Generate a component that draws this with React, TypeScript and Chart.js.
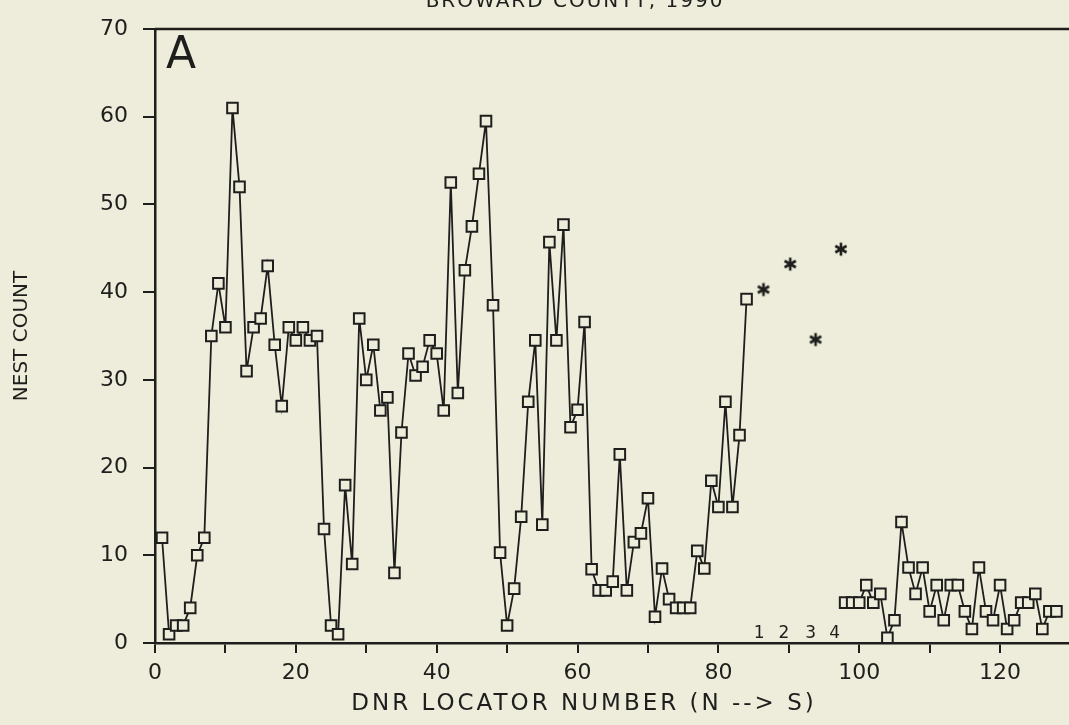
import React, { useEffect, useRef } from 'react';
import { Chart, registerables } from 'chart.js';

Chart.register(...registerables);

// ---- data ----
const NORTH_START = 1; // DNR locator of first value in northCounts
const northCounts = [
  12, 1, 2, 2, 4, 10, 12, 35, 41, 36,
  61, 52, 31, 36, 37, 43, 34, 27, 36, 34.5,
  36, 34.5, 35, 13, 2, 1, 18, 9, 37, 30,
  34, 26.5, 28, 8, 24, 33, 30.5, 31.5, 34.5, 33,
  26.5, 52.5, 28.5, 42.5, 47.5, 53.5, 59.5, 38.5, 10.3, 2,
  6.2, 14.4, 27.5, 34.5, 13.5, 45.7, 34.5, 47.7, 24.6, 26.6,
  36.6, 8.4, 6, 6, 7, 21.5, 6, 11.5, 12.5, 16.5,
  3, 8.5, 5, 4, 4, 4, 10.5, 8.5, 18.5, 15.5,
  27.5, 15.5, 23.7, 39.2,
];
const SOUTH_START = 98;
const southCounts = [
  4.6, 4.6, 4.6, 6.6, 4.6, 5.6, 0.6, 2.6, 13.8, 8.6,
  5.6, 8.6, 3.6, 6.6, 2.6, 6.6, 6.6, 3.6, 1.6, 8.6,
  3.6, 2.6, 6.6, 1.6, 2.6, 4.6, 4.6, 5.6, 1.6, 3.6,
  3.6,
];
const starLocators = [86.4, 90.2, 93.8, 97.4];
const starCounts = [40.3, 43.2, 34.6, 44.9];
const noteLabels = ['1', '2', '3', '4'];
const noteLocators = [85.8, 89.3, 93.1, 96.5];

const TITLE = 'BROWARD COUNTY, 1990';
const X_TITLE = 'DNR LOCATOR NUMBER (N --> S)';
const Y_TITLE = 'NEST COUNT';
const PANEL = 'A';

const INK = '#1e1e1c';
const PAPER = '#eeeddb';
const FONT = '"DejaVu Sans", sans-serif';

function makeAsterisk(): HTMLCanvasElement {
  const size = 16;
  const c = document.createElement('canvas');
  c.width = size;
  c.height = size;
  const g = c.getContext('2d')!;
  g.strokeStyle = INK;
  g.lineWidth = 2.6;
  g.lineCap = 'butt';
  const r = 6.5;
  const cx = size / 2;
  const cy = size / 2;
  [90, 30, 150].forEach((deg) => {
    const a = (deg * Math.PI) / 180;
    g.beginPath();
    g.moveTo(cx - r * Math.cos(a), cy - r * Math.sin(a));
    g.lineTo(cx + r * Math.cos(a), cy + r * Math.sin(a));
    g.stroke();
  });
  return c;
}

const textPlugin = {
  id: 'figureText',
  afterDraw(chart: any) {
    const { ctx, chartArea, scales } = chart;
    ctx.save();
    ctx.strokeStyle = INK;
    ctx.lineWidth = 2.5;
    ctx.beginPath();
    ctx.moveTo(chartArea.left, chartArea.top);
    ctx.lineTo(chartArea.right, chartArea.top);
    ctx.stroke();

    ctx.fillStyle = INK;
    ctx.textBaseline = 'alphabetic';
    ctx.textAlign = 'center';
    ctx.font = `20px ${FONT}`;
    (ctx as any).letterSpacing = '2px';
    ctx.fillText(TITLE, 575, 7);

    (ctx as any).letterSpacing = '0px';
    ctx.textAlign = 'left';
    ctx.font = `44px ${FONT}`;
    ctx.fillText(PANEL, chartArea.left + 11, chartArea.top + 39);

    ctx.textAlign = 'center';
    ctx.font = `23px ${FONT}`;
    (ctx as any).letterSpacing = '3px';
    ctx.fillText(X_TITLE, 584, 710);
    (ctx as any).letterSpacing = '0px';

    ctx.font = `17px ${FONT}`;
    const y0 = scales.y.getPixelForValue(0) - 5;
    noteLabels.forEach((lab, i) => {
      ctx.fillText(lab, scales.x.getPixelForValue(noteLocators[i]), y0);
    });
    ctx.restore();
  },
};

export default function App() {
  const ref = useRef<HTMLCanvasElement | null>(null);

  useEffect(() => {
    if (!ref.current) return;
    const north = northCounts.map((v, i) => ({ x: NORTH_START + i, y: v }));
    const south = southCounts.map((v, i) => ({ x: SOUTH_START + i, y: v }));
    const stars = starCounts.map((v, i) => ({ x: starLocators[i], y: v }));

    const lineStyle = {
      borderColor: INK,
      borderWidth: 1.8,
      pointStyle: 'rect' as const,
      pointRadius: 7.5,
      pointBorderWidth: 2,
      pointBorderColor: INK,
      pointBackgroundColor: PAPER,
      tension: 0,
      fill: false,
    };

    const chart = new Chart(ref.current, {
      type: 'line',
      data: {
        datasets: [
          { ...lineStyle, data: north },
          { ...lineStyle, data: south },
          {
            data: stars,
            showLine: false,
            pointStyle: makeAsterisk() as any,
            pointRadius: 8,
            pointBorderWidth: 0,
            pointBorderColor: INK,
            pointBackgroundColor: INK,
          },
        ],
      },
      options: {
        animation: false,
        responsive: false,
        maintainAspectRatio: false,
        layout: { padding: { top: 29, right: 6, left: 0, bottom: 0 } },
        plugins: {
          legend: { display: false },
          tooltip: { enabled: false },
          title: { display: false },
        },
        scales: {
          x: {
            type: 'linear',
            min: 0,
            max: 130,
            border: { display: true, color: INK, width: 2.5 },
            grid: {
              display: true,
              drawOnChartArea: false,
              drawTicks: true,
              tickLength: 10,
              color: INK,
              lineWidth: 2,
            },
            ticks: {
              stepSize: 10,
              autoSkip: false,
              maxRotation: 0,
              padding: 7,
              color: INK,
              font: { family: FONT, size: 22 },
              callback: (v: any) => (Number(v) % 20 === 0 ? String(v) : ''),
            },
            afterFit: (s: any) => {
              s.height = 82;
            },
          },
          y: {
            type: 'linear',
            min: 0,
            max: 70,
            border: { display: true, color: INK, width: 2.5 },
            grid: {
              display: true,
              drawOnChartArea: false,
              drawTicks: true,
              tickLength: 12,
              color: INK,
              lineWidth: 2,
            },
            ticks: {
              stepSize: 10,
              padding: 15,
              color: INK,
              font: { family: FONT, size: 22 },
            },
            title: {
              display: true,
              text: Y_TITLE,
              color: INK,
              font: { family: FONT, size: 20 },
              padding: { top: 10, bottom: 4 },
            },
            afterFit: (s: any) => {
              s.width = 155;
            },
          },
        },
      },
      plugins: [textPlugin],
    });
    return () => chart.destroy();
  }, []);

  return (
    <div
      style={{
        position: 'fixed',
        left: 0,
        top: 0,
        width: 1069,
        height: 725,
        overflow: 'hidden',
        background: PAPER,
      }}
    >
      <canvas ref={ref} width={1080} height={725} style={{ width: 1080, height: 725, display: 'block' }} />
    </div>
  );
}
